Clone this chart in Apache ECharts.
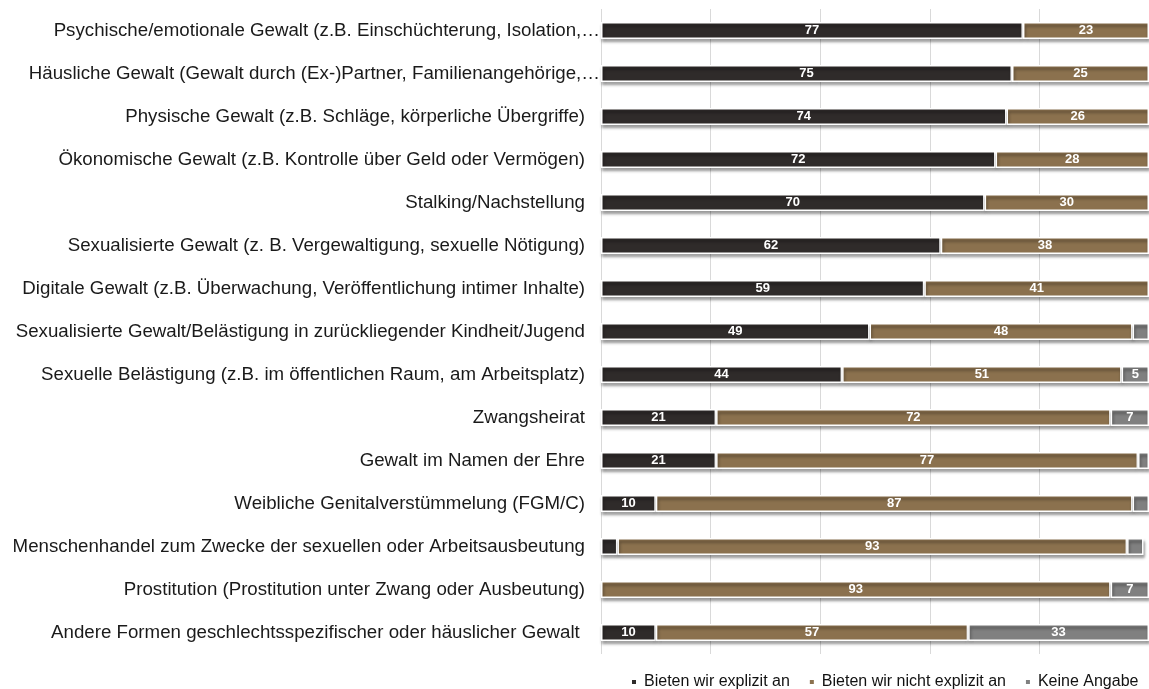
<!DOCTYPE html>
<html>
<head>
<meta charset="utf-8">
<title>Gewaltformen</title>
<script src="https://cdn.jsdelivr.net/npm/echarts@6/dist/echarts.min.js"></script>
<style>
  html, body { margin: 0; padding: 0; background: #fff; }
  #root { width: 1149px; height: 689px; }
</style>
</head>
<body>
<div id="root"></div>
<script>
/**
 * Kategorien (von oben nach unten)
 */
var categories = [
  'Psychische/emotionale Gewalt (z.B. Einschüchterung, Isolation,…',
  'Häusliche Gewalt (Gewalt durch (Ex-)Partner, Familienangehörige,…',
  'Physische Gewalt (z.B. Schläge, körperliche Übergriffe)',
  'Ökonomische Gewalt (z.B. Kontrolle über Geld oder Vermögen)',
  'Stalking/Nachstellung',
  'Sexualisierte Gewalt (z. B. Vergewaltigung, sexuelle Nötigung)',
  'Digitale Gewalt (z.B. Überwachung, Veröffentlichung intimer Inhalte)',
  'Sexualisierte Gewalt/Belästigung in zurückliegender Kindheit/Jugend',
  'Sexuelle Belästigung (z.B. im öffentlichen Raum, am Arbeitsplatz)',
  'Zwangsheirat',
  'Gewalt im Namen der Ehre',
  'Weibliche Genitalverstümmelung (FGM/C)',
  'Menschenhandel zum Zwecke der sexuellen oder Arbeitsausbeutung',
  'Prostitution (Prostitution unter Zwang oder Ausbeutung)',
  'Andere Formen geschlechtsspezifischer oder häuslicher Gewalt '
];
// Anteile in %
var explizit = [77, 75, 74, 72, 70, 62, 59, 49, 44, 21, 21, 10, 3, 0, 10];
var nichtExplizit = [23, 25, 26, 28, 30, 38, 41, 48, 51, 72, 77, 87, 93, 93, 57];
var keineAngabe = [0, 0, 0, 0, 0, 0, 0, 3, 5, 7, 2, 3, 3, 7, 33];
var seriesNames = ['Bieten wir explizit an', 'Bieten wir nicht explizit an', 'Keine Angabe'];
var colors = ['#2f2b2a', '#8b714e', '#808080'];

var fontFamily = "'Liberation Sans', Arial, sans-serif";
var labelSize = 18.7;

// 0-Werte nicht zeichnen
function toData(arr) {
  return arr.map(function(v) {
    return v === 0 ? '-' : v;
  });
}

function makeSeries(name, arr, color) {
  return {
    name: name,
    type: 'bar',
    stack: 'total',
    barWidth: 17,
    data: toData(arr),
    itemStyle: {
      color: color,
      borderColor: '#fff',
      borderWidth: 1.5,
      shadowColor: 'rgba(0,0,0,0.45)',
      shadowBlur: 3,
      shadowOffsetX: 1,
      shadowOffsetY: 3
    },
    label: {
      show: true,
      position: 'inside',
      color: '#fff',
      fontWeight: 'bold',
      fontSize: 13,
      fontFamily: fontFamily,
      formatter: function(p) {
        //kleine Werte ohne Beschriftung
        return p.value >= 5 ? p.value : '';
      }
    }
  };
}

var option = {
  animation: false,
  color: colors,
  grid: {
    left: 601,
    top: 9,
    width: 549,
    height: 645
  },
  legend: {
    data: seriesNames,
    left: 625,
    top: 669,
    icon: 'rect',
    itemWidth: 6,
    itemHeight: 6,
    itemGap: 18,
    textStyle: {
      fontSize: 16,
      color: '#111',
      fontFamily: fontFamily,
      padding: [0, 0, 0, 2]
    }
  },
  xAxis: {
    type: 'value',
    min: 0,
    max: 100,
    interval: 20,
    axisLabel: { show: false },
    axisLine: { show: false },
    axisTick: { show: false },
    splitLine: {
      show: true,
      lineStyle: { color: '#d9d9d9', width: 1 }
    }
  },
  yAxis: {
    type: 'category',
    inverse: true,
    data: categories,
    axisLine: { show: false },
    axisTick: { show: false },
    axisLabel: {
      margin: 1,
      color: '#1a1a1a',
      fontSize: labelSize,
      fontFamily: fontFamily,
      formatter: function(value) {
        // abgeschnittene Texte reichen bis an die Achse
        if (value.charAt(value.length - 1) === '…') {
          return '{t|' + value + '}';
        }
        return '{n|' + value + '}';
      },
      rich: {
        t: { fontSize: labelSize, color: '#1a1a1a', fontFamily: fontFamily },
        n: { fontSize: labelSize, color: '#1a1a1a', fontFamily: fontFamily, padding: [0, 15, 0, 0] }
      }
    }
  },
  series: [
    makeSeries(seriesNames[0], explizit, colors[0]),
    makeSeries(seriesNames[1], nichtExplizit, colors[1]),
    makeSeries(seriesNames[2], keineAngabe, colors[2])
  ]
};

var myChart = echarts.init(document.getElementById('root'));
myChart.setOption(option);
</script>
</body>
</html>
